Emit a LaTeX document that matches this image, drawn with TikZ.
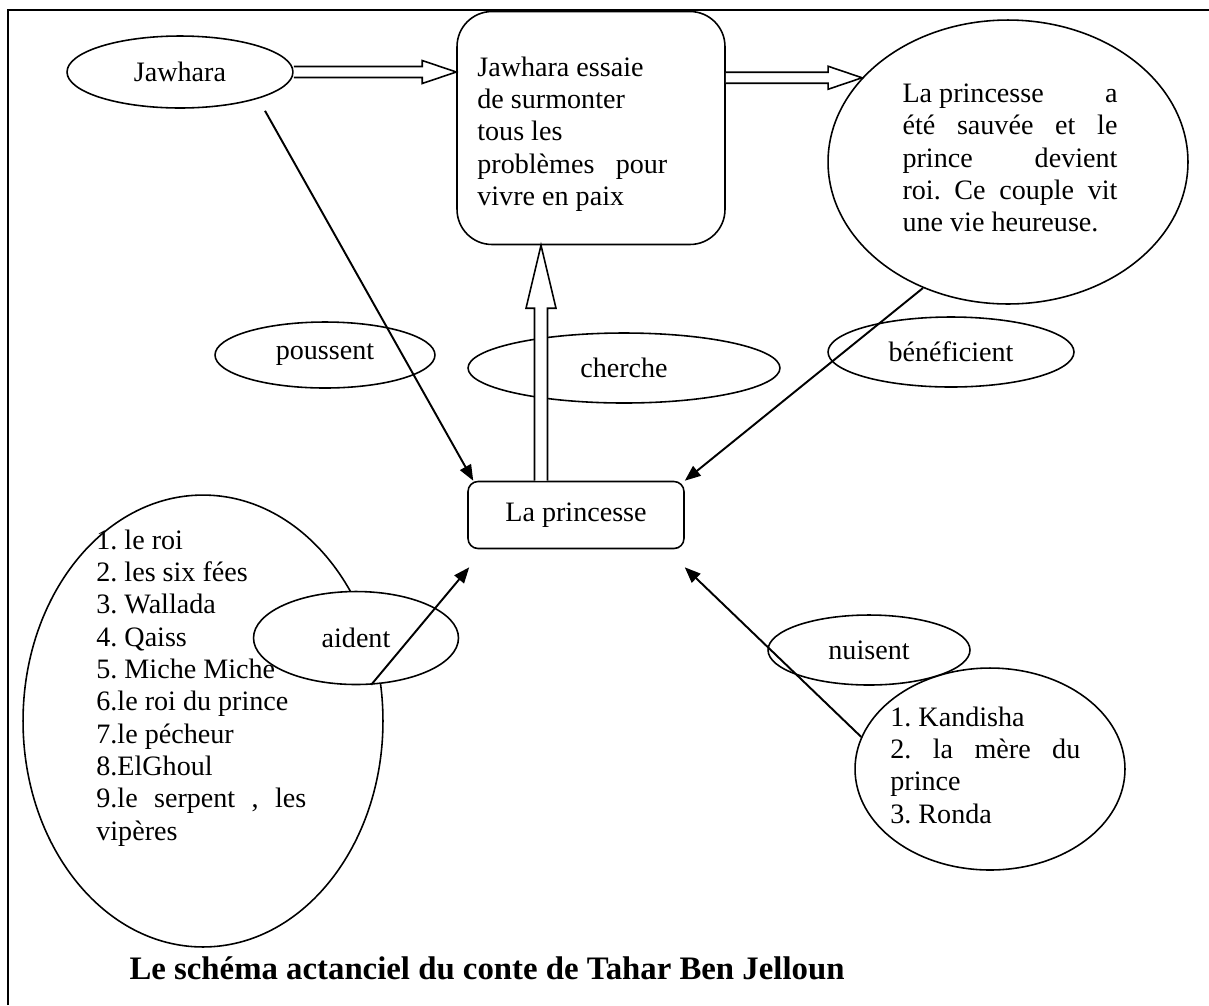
\documentclass[tikz,border=0pt]{standalone}
\usepackage{fontspec}
\setmainfont{Liberation Serif}
\usetikzlibrary{arrows.meta,calc,positioning,shapes.geometric}

% hollow arrows, pointing right and pointing up
\newcommand{\hollowright}[2]{\draw[holle] ($(#1)+(0,-5.5)$) -- ($(#2)+(-34,-5.5)$) -- ($(#2)+(-34,-11.5)$) -- (#2) -- ($(#2)+(-34,11.5)$) -- ($(#2)+(-34,5.5)$) -- ($(#1)+(0,5.5)$);}
\newcommand{\hollowup}[2]{\draw[holle] ($(#1)+(-6.5,0)$) -- ($(#2)+(-6.5,63)$) -- ($(#2)+(-15,63)$) -- (#2) -- ($(#2)+(15,63)$) -- ($(#2)+(6.5,63)$) -- ($(#1)+(6.5,0)$);}

\begin{document}
\frenchspacing
\begin{tikzpicture}[x=0.02cm,y=-0.02cm,font=\fontsize{16}{18.4}\selectfont]
\tikzstyle{ovaal} = [draw, ellipse, line width=0.9pt, fill=white, inner sep=0pt]
\tikzstyle{veld} = [draw, line width=0.9pt, fill=white, inner sep=0pt]
\tikzstyle{tekst} = [inner sep=0pt, align=left]
\tikzstyle{pijl} = [line width=1.1pt, -{Triangle[length=9pt,width=7pt]}]
\tikzstyle{holle} = [line width=0.9pt, fill=white]

\useasboundingbox (0,0) rectangle (1209,1005);
\draw[line width=1.5pt] (8,1005) -- (8,10) -- (1209,10);

\node [ovaal, minimum width=4.52cm, minimum height=1.44cm] (jaw) at (180,72) {Jawhara};

\node [veld, rounded corners=0.7cm, minimum width=5.36cm, minimum height=4.66cm] (goal) at (591,128) {};
\node [tekst, anchor=west] (goaltxt) at (477,134) {Jawhara essaie\\ de surmonter\\ tous les\\ \makebox[3.8cm][s]{problèmes pour}\\ vivre en paix};

\node [ovaal, minimum width=7.2cm, minimum height=5.68cm] (big) at (1008,162) {};
\node [tekst] (bigtxt) at (1010,158) {\makebox[4.3cm][s]{La princesse\hfill a}\\ \makebox[4.3cm][s]{été sauvée et le}\\ \makebox[4.3cm][s]{prince\hfill devient}\\ \makebox[4.3cm][s]{roi. Ce couple vit}\\ \makebox[4.3cm][l]{une vie heureuse.}};

\coordinate (h1a) at (jaw.east);
\coordinate (h1b) at (jaw.east -| goal.west);
\hollowright{h1a}{h1b}
\coordinate (h2b) at (big.150);
\coordinate (h2a) at (goal.east |- h2b);
\hollowright{h2a}{h2b}

\node [ovaal, minimum width=4.4cm, minimum height=1.32cm] (pous) at (325,355) {poussent};
\node [ovaal, minimum width=6.24cm, minimum height=1.4cm] (cher) at (624,368) {cherche};
\node [ovaal, minimum width=4.92cm, minimum height=1.4cm] (bene) at (951,352) {bénéficient};

\node [veld, rounded corners=0.2cm, minimum width=4.32cm, minimum height=1.34cm] (princ) at (576,515) {La princesse};

\coordinate (va) at ($(princ.north)+(-35,0)$);
\coordinate (vb) at (va |- goal.south);
\hollowup{va}{vb}

\coordinate (js) at ($(jaw.south)+(85,2)$);
\draw [pijl] (js) -- ($(princ.north west)+(6,0)$);
\draw [pijl] (big.236) -- (princ.north east);

\node [ovaal, minimum width=7.2cm, minimum height=9.04cm] (help) at (203,721) {};
\node [tekst, anchor=west] (helptxt) at (96,688) {1. le roi\\ 2. les six fées\\ 3. Wallada\\ 4. Qaiss\\ 5. Miche Miche\\ 6.le roi du prince\\ 7.le pécheur\\ 8.ElGhoul\\ \makebox[4.2cm][s]{9.le serpent , les}\\ vipères};

\node [ovaal, minimum width=4.1cm, minimum height=1.86cm] (aid) at (356,638) {aident};
\draw [pijl] (aid.-72) -- ($(princ.south west)+(2,18)$);

\node [ovaal, fill=none, minimum width=5.4cm, minimum height=4.04cm] (opp) at (990,769) {};
\node [tekst, anchor=west] (opptxt) at (890,765) {1. Kandisha\\ \makebox[3.8cm][s]{2. la mère du}\\ prince\\ 3. Ronda};
\node [ovaal, fill=none, minimum width=4.04cm, minimum height=1.4cm] (nuis) at (869,650) {nuisent};
\draw [pijl] (opp.166) -- ($(princ.south east)+(0,18)$);

\node [font=\fontsize{18.67}{22}\selectfont\bfseries] (titel) at (487,968) {Le schéma actanciel du conte de Tahar Ben Jelloun};
\end{tikzpicture}
\end{document}
